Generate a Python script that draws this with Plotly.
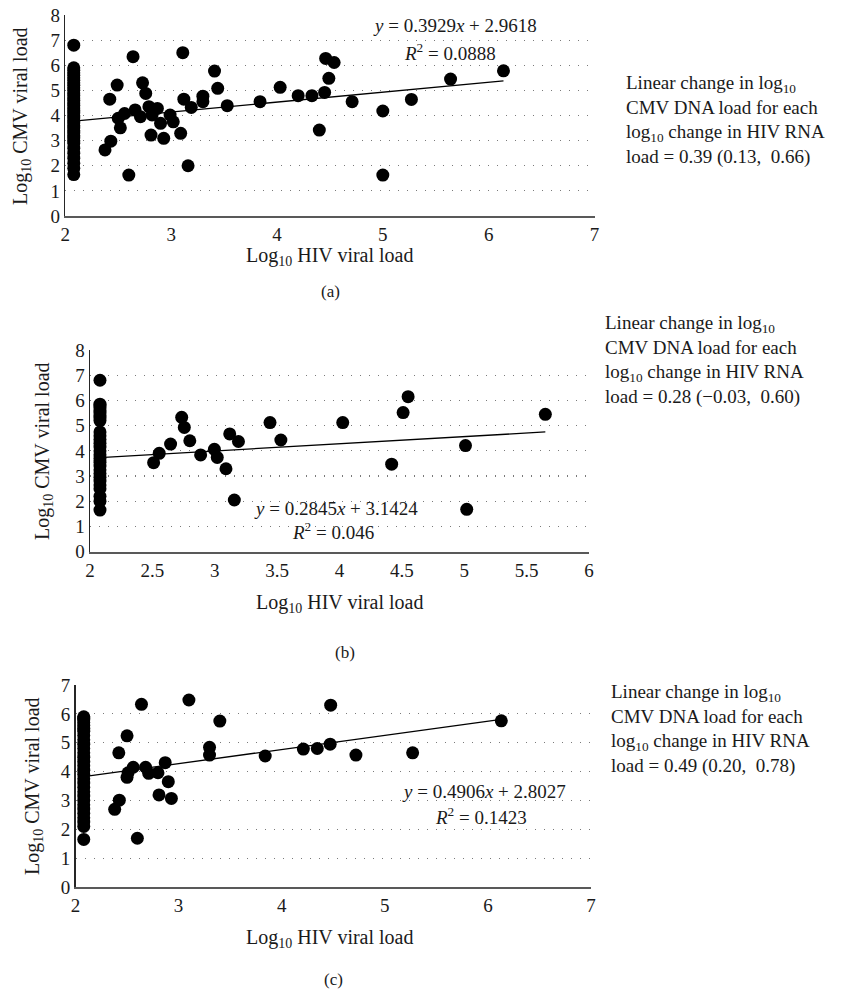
import plotly.graph_objects as go

W, H = 847, 993
FONT = "Liberation Serif"

# ---------- Data ----------
# Panel (a)
a_x = [2.08]*38 + [2.375, 2.43, 2.42, 2.49, 2.50, 2.52, 2.56, 2.60, 2.64, 2.66, 2.71, 2.73, 2.76, 2.79,
        2.81, 2.82, 2.87, 2.90, 2.93, 2.99, 3.02, 3.09, 3.11, 3.12, 3.16, 3.19, 3.30, 3.30, 3.41, 3.44,
        3.53, 3.84, 4.03, 4.20, 4.33, 4.40, 4.45, 4.46, 4.49, 4.54, 4.71, 5.00, 5.00, 5.27, 5.64, 6.14]
a_y = [1.65, 1.9, 2.1, 2.3, 2.5, 2.7, 2.9, 3.0, 3.1, 3.2, 3.3, 3.4, 3.5, 3.6, 3.7, 3.8, 3.9, 4.0, 4.1,
       4.2, 4.3, 4.4, 4.5, 4.6, 4.7, 4.8, 4.9, 5.0, 5.1, 5.2, 5.3, 5.4, 5.5, 5.6, 5.7, 5.8, 5.9, 6.8] + \
      [2.63, 2.98, 4.65, 5.21, 3.89, 3.51, 4.08, 1.63, 6.34, 4.22, 3.95, 5.30, 4.88, 4.35,
       3.22, 4.02, 4.28, 3.69, 3.09, 4.02, 3.75, 3.29, 6.50, 4.65, 2.00, 4.32, 4.77, 4.55, 5.77, 5.08,
       4.39, 4.55, 5.12, 4.79, 4.79, 3.42, 4.92, 6.27, 5.48, 6.11, 4.55, 4.18, 1.63, 4.64, 5.45, 5.78]
a_slope, a_icpt = 0.3929, 2.9618
a_eq = ["<i>y</i> = 0.3929<i>x</i> + 2.9618", "<i>R</i><sup>2</sup> = 0.0888"]
a_note = "0.39 (0.13,  0.66)"

# Panel (b)
b_x = [2.08]*28 + [2.51, 2.555, 2.646, 2.735, 2.756, 2.80, 2.887, 2.997, 3.02, 3.09, 3.12, 3.157, 3.19,
        3.443, 3.53, 4.026, 4.418, 4.51, 4.55, 5.01, 5.02, 5.65]
b_y = [1.65, 2.0, 2.2, 2.5, 2.65, 2.8, 2.95, 3.1, 3.25, 3.4, 3.55, 3.7, 3.85, 4.0, 4.15, 4.3, 4.45,
       4.6, 4.75, 5.2, 5.3, 5.4, 5.5, 5.6, 5.7, 5.8, 5.85, 6.8] + \
      [3.53, 3.90, 4.27, 5.33, 4.93, 4.40, 3.84, 4.06, 3.74, 3.29, 4.67, 2.05, 4.37,
       5.12, 4.43, 5.12, 3.47, 5.52, 6.15, 4.21, 1.68, 5.45]
b_slope, b_icpt = 0.2845, 3.1424
b_eq = ["<i>y</i> = 0.2845<i>x</i> + 3.1424", "<i>R</i><sup>2</sup> = 0.046"]
b_note = "0.28 (\u22120.03,  0.60)"

# Panel (c)
c_x = [2.08]*30 + [2.38, 2.425, 2.42, 2.50, 2.50, 2.51, 2.56, 2.60, 2.64, 2.68, 2.71, 2.80, 2.81, 2.87,
        2.90, 2.93, 3.10, 3.30, 3.30, 3.40, 3.84, 4.21, 4.345, 4.47, 4.475, 4.72, 5.27, 6.13]
c_y = [1.65, 2.1, 2.25, 2.4, 2.55, 2.7, 2.85, 3.0, 3.15, 3.3, 3.45, 3.6, 3.75, 3.9, 4.05, 4.2, 4.35,
       4.5, 4.65, 4.8, 4.95, 5.1, 5.25, 5.4, 5.5, 5.6, 5.7, 5.8, 5.85, 5.9] + \
      [2.69, 3.01, 4.65, 5.24, 3.80, 3.96, 4.15, 1.69, 6.33, 4.15, 3.94, 3.96, 3.19, 4.31,
       3.65, 3.07, 6.48, 4.84, 4.57, 5.75, 4.54, 4.78, 4.80, 4.95, 6.30, 4.57, 4.65, 5.76]
c_slope, c_icpt = 0.4906, 2.8027
c_eq = ["<i>y</i> = 0.4906<i>x</i> + 2.8027", "<i>R</i><sup>2</sup> = 0.1423"]
c_note = "0.49 (0.20,  0.78)"

x_title = "Log<sub>10</sub> HIV viral load"
y_title = "Log<sub>10</sub> CMV viral load"

# ---------- Layout geometry (screen pixels) ----------
panels = [
    dict(x=a_x, y=a_y, m=a_slope, c=a_icpt, eq=a_eq, note=a_note, label="(a)",
         px=(65.3, 594.5), py=(216, 15), xr=(2, 7), yr=(0, 8), dx=1,
         eqpos=(455, 26, 450, 52), xt=(330, 256), yt=(22, 116), lab=(330, 292),
         note_xy=(624, 120)),
    dict(x=b_x, y=b_y, m=b_slope, c=b_icpt, eq=b_eq, note=b_note, label="(b)",
         px=(90, 589), py=(551.7, 350), xr=(2, 6), yr=(0, 8), dx=0.5,
         eqpos=(336, 508, 333, 531), xt=(340, 603), yt=(43, 451), lab=(345, 652),
         note_xy=(603, 360)),
    dict(x=c_x, y=c_y, m=c_slope, c=c_icpt, eq=c_eq, note=c_note, label="(c)",
         px=(75.5, 591), py=(887, 685), xr=(2, 7), yr=(0, 7), dx=1,
         eqpos=(484, 791, 481, 816), xt=(330, 938), yt=(33, 786), lab=(333, 979),
         note_xy=(609, 729)),
]

fig = go.Figure()
annotations = []
layout = {}

def fx(p):
    return p / W

def fy(p):
    return 1 - p / H

for i, p in enumerate(panels):
    n = "" if i == 0 else str(i + 1)
    xa, ya = "x" + n, "y" + n
    fig.add_trace(go.Scatter(x=p["x"], y=p["y"], mode="markers", xaxis=xa, yaxis=ya,
                             marker=dict(color="black", size=13), showlegend=False,
                             hoverinfo="skip", cliponaxis=False))
    x0, x1 = min(p["x"]), max(p["x"])
    fig.add_trace(go.Scatter(x=[x0, x1], y=[p["m"] * x0 + p["c"], p["m"] * x1 + p["c"]],
                             mode="lines", xaxis=xa, yaxis=ya,
                             line=dict(color="black", width=1.3), showlegend=False,
                             hoverinfo="skip"))
    layout["xaxis" + n] = dict(
        domain=[fx(p["px"][0]), fx(p["px"][1])], range=list(p["xr"]), anchor=ya,
        dtick=p["dx"], tick0=2, showgrid=False, zeroline=False, showline=True,
        linecolor="#595959", linewidth=2, ticks="", fixedrange=True, automargin=False,
        tickfont=dict(family=FONT, size=19, color="#1a1a1a"))
    layout["yaxis" + n] = dict(
        domain=[fy(p["py"][0]), fy(p["py"][1])], range=list(p["yr"]), anchor=xa,
        dtick=1, tick0=0, showgrid=True, gridcolor="#7a7a7a", griddash="1px,8px", gridwidth=1.2,
        zeroline=False, showline=True, linecolor="#262626", linewidth=1.5, ticks="",
        automargin=False,
        tickfont=dict(family=FONT, size=19, color="#1a1a1a"), fixedrange=True)
    ex, ey, rx, ry = p["eqpos"]
    annotations.append(dict(x=fx(ex), y=fy(ey), xref="paper", yref="paper", text=p["eq"][0],
                            showarrow=False, xanchor="center", yanchor="middle",
                            font=dict(family=FONT, size=19, color="#1a1a1a")))
    annotations.append(dict(x=fx(rx), y=fy(ry), xref="paper", yref="paper", text=p["eq"][1],
                            showarrow=False, xanchor="center", yanchor="middle",
                            font=dict(family=FONT, size=19, color="#1a1a1a")))
    annotations.append(dict(x=fx(p["xt"][0]), y=fy(p["xt"][1]), xref="paper", yref="paper",
                            text=x_title, showarrow=False, xanchor="center", yanchor="middle",
                            font=dict(family=FONT, size=20, color="#1a1a1a")))
    annotations.append(dict(x=fx(p["yt"][0]), y=fy(p["yt"][1]), xref="paper", yref="paper",
                            text=y_title, showarrow=False, xanchor="center", yanchor="middle",
                            textangle=-90, font=dict(family=FONT, size=20, color="#1a1a1a")))
    annotations.append(dict(x=fx(p["lab"][0]), y=fy(p["lab"][1]), xref="paper", yref="paper",
                            text=p["label"], showarrow=False, xanchor="center", yanchor="middle",
                            font=dict(family=FONT, size=17, color="#1a1a1a")))
    note = ("Linear change in log<sub>10</sub><br>CMV DNA load for each<br>"
            "log<sub>10</sub> change in HIV RNA<br>load = " + p["note"])
    annotations.append(dict(x=fx(p["note_xy"][0]), y=fy(p["note_xy"][1]), xref="paper",
                            yref="paper", text=note, showarrow=False, xanchor="left",
                            yanchor="middle", align="left",
                            font=dict(family=FONT, size=19, color="#1a1a1a")))

fig.update_layout(width=W, height=H, autosize=False, margin=dict(l=0, r=0, t=0, b=0),
                  paper_bgcolor="white", plot_bgcolor="white", annotations=annotations,
                  **layout)
# remove the default page margin so the figure fills the 847x993 window exactly
fig.write_html("out.html", config={"displayModeBar": False, "staticPlot": True},
               post_script="document.body.style.margin='0px';document.body.style.overflow='hidden';")
